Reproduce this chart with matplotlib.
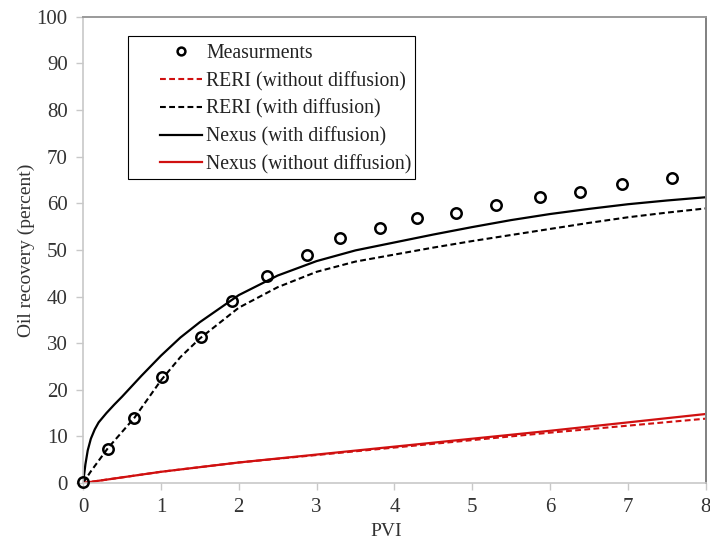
import matplotlib
matplotlib.use("Agg")
import matplotlib.pyplot as plt
from matplotlib.patches import Rectangle

# Measurements
meas_x = [0.0, 0.32, 0.66, 1.02, 1.51, 1.91, 2.36, 2.88, 3.30, 3.81, 4.29, 4.79, 5.30, 5.87, 6.39, 6.92, 7.57]
meas_y = [0.3, 7.4, 13.9, 22.8, 31.3, 39.1, 44.5, 48.9, 52.6, 54.7, 56.9, 57.9, 59.6, 61.4, 62.4, 64.1, 65.5]

# Nexus (with diffusion)
nexus_d_x = [0.0, 0.03, 0.06, 0.1, 0.15, 0.2, 0.3, 0.4, 0.5, 0.75, 1.0, 1.25, 1.5, 2.0, 2.5, 3.0, 3.5, 4.0, 4.5, 5.0, 5.5, 6.0, 6.5, 7.0, 7.5, 8.0]
nexus_d_y = [0.0, 4.0, 7.0, 9.5, 11.5, 13.0, 15.0, 16.8, 18.5, 23.0, 27.3, 31.2, 34.5, 40.3, 44.5, 47.6, 49.9, 51.6, 53.3, 54.9, 56.4, 57.7, 58.8, 59.8, 60.6, 61.3]

# RERI (with diffusion)
reri_d_x = [0.0, 0.1, 0.32, 0.66, 1.0, 1.25, 1.5, 2.0, 2.5, 3.0, 3.5, 4.0, 4.5, 5.0, 5.5, 6.0, 6.5, 7.0, 7.5, 8.0]
reri_d_y = [0.0, 2.5, 7.5, 14.0, 22.0, 27.0, 31.0, 37.6, 42.0, 45.3, 47.5, 49.0, 50.5, 51.9, 53.2, 54.5, 55.8, 57.0, 58.0, 58.9]

# Nexus (without diffusion)
nexus_nd_x = [0, 1, 2, 3, 4, 5, 6, 7, 8]
nexus_nd_y = [0.0, 2.4, 4.4, 6.1, 7.8, 9.5, 11.2, 13.0, 14.8]

# RERI (without diffusion)
reri_nd_x = [0, 1, 2, 3, 4, 5, 6, 7, 8]
reri_nd_y = [0.0, 2.4, 4.4, 6.0, 7.6, 9.2, 10.8, 12.3, 13.8]

plt.rcParams['font.family'] = ['Liberation Serif', 'DejaVu Serif']

fig = plt.figure(figsize=(7.1, 5.43), dpi=100)
ax = fig.add_axes([0.117, 0.1105, 0.877, 0.8585])

RED = '#d01010'
DASH = (0, (2.8, 1.6))

ax.plot(meas_x, meas_y, linestyle='none', marker='o', markersize=7.5,
        markerfacecolor='none', markeredgecolor='black', markeredgewidth=1.8,
        label='Measurments', zorder=5, clip_on=False)
ax.plot(reri_nd_x, reri_nd_y, color=RED, linestyle=DASH, lw=1.5,
        label='RERI (without diffusion)')
ax.plot(reri_d_x, reri_d_y, color='black', linestyle=DASH, lw=1.5,
        label='RERI (with diffusion)')
ax.plot(nexus_d_x, nexus_d_y, color='black', lw=1.6, label='Nexus (with diffusion)')
ax.plot(nexus_nd_x, nexus_nd_y, color=RED, lw=1.6, label='Nexus (without diffusion)')

ax.set_xlim(0, 8)
ax.set_ylim(0, 100)
ax.set_xticks(range(0, 9))
ax.set_yticks(range(0, 101, 10))

for side in ['left', 'bottom']:
    ax.spines[side].set_color('#c8c8c8')
    ax.spines[side].set_linewidth(1.2)
ax.spines['top'].set_color('#9a9a9a')
ax.spines['top'].set_linewidth(1.4)
ax.spines['right'].set_color('#808080')
ax.spines['right'].set_linewidth(1.4)

ax.tick_params(axis='both', direction='out', length=5, width=1, color='#c8c8c8',
               labelsize=15, labelcolor='#333333', pad=6)

ax.set_xlabel('PVI', fontsize=14, color='#333333', labelpad=4)
ax.xaxis.set_label_coords(0.487, -0.085)
ax.set_ylabel('Oil recovery (percent)', fontsize=14, color='#333333', labelpad=1)

leg = ax.legend(loc='upper left', bbox_to_anchor=(0.1236, 0.941), fontsize=14.2,
                frameon=False, handlelength=2.15, handletextpad=0.2,
                borderpad=0, labelspacing=0.42, borderaxespad=0, markerscale=0.75)
for t in leg.get_texts():
    t.set_color('#222222')

# legend frame (Excel style, wider left padding)
ax.add_patch(Rectangle((0.072, 0.652), 0.461, 0.307, transform=ax.transAxes,
                       facecolor='none', edgecolor='black', lw=0.8, zorder=6,
                       clip_on=False))

fig.savefig('out.png', dpi=100)
